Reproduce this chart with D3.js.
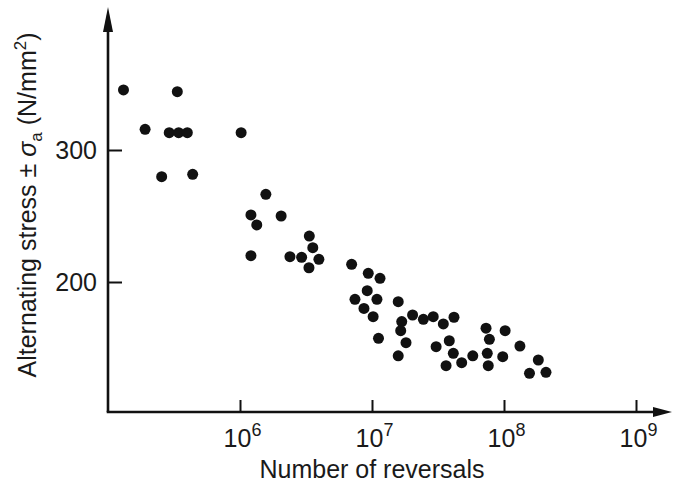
<!DOCTYPE html>
<html>
<head>
<meta charset="utf-8">
<script src="https://cdn.jsdelivr.net/npm/d3@7"></script>
<style>
  body { margin: 0; background: #fff; }
  text { font-family: "Liberation Sans", Arial, sans-serif; fill: #1a1a1a; }
</style>
</head>
<body>
<svg id="chart" width="673" height="486"></svg>
<script>
// number of reversals (cycles to failure)
var cycles = [1.31e5, 3.35e5, 1.91e5, 2.91e5, 3.43e5, 3.99e5, 1.02e6, 2.55e5, 4.38e5, 1.57e6,
              1.21e6, 2.05e6, 1.34e6, 3.35e6, 3.56e6, 1.21e6, 2.39e6, 2.93e6, 3.96e6, 3.33e6,
              7.01e6, 9.37e6, 1.15e7, 9.2e6, 7.43e6, 1.09e7, 8.69e6, 1.02e7, 1.12e7, 1.58e7,
              1.68e7, 1.65e7, 1.81e7, 1.58e7, 2.03e7, 2.45e7, 2.91e7, 3.47e7, 4.18e7, 3.06e7,
              3.85e7, 4.13e7, 3.64e7, 4.78e7, 5.8e7, 7.31e7, 7.75e7, 7.47e7, 7.6e7, 1.02e8,
              9.78e7, 1.32e8, 1.82e8, 1.56e8, 2.08e8];
// alternating stress, N/mm2
var stress = [345.5, 344.2, 315.7, 313.1, 313.1, 313.1, 313.1, 279.8, 281.6, 266.4,
              250.8, 250, 243.2, 234.8, 226, 219.9, 219.2, 218.7, 217.2, 210.8,
              213.4, 206.6, 202.8, 193.4, 186.9, 186.9, 180, 173.7, 157.3, 185.1,
              170, 163.1, 154, 144.1, 175, 171.7, 173.7, 168.2, 173.3, 151,
              155.5, 146, 136.6, 138.9, 144.1, 165, 156.6, 146, 136.6, 163.1,
              143.4, 151.5, 140.9, 130.8, 131.6];

var xTicks = [1e6, 1e7, 1e8, 1e9];
var yTicks = [200, 300];

var svg = d3.select("#chart");

var x = d3.scaleLog().domain([1e5, 1e9]).range([108, 636]);
var y = d3.scaleLinear().domain([200, 300]).range([282, 150]);

var x0 = x(1e5), yBase = 412;

// axes lines
svg.append("path")
    .attr("d", "M" + x0 + "," + yBase + " L" + x0 + ",28")
    .attr("stroke", "#111").attr("stroke-width", 2.6).attr("fill", "none");
svg.append("path")
    .attr("d", "M" + (x0 - 1.3) + "," + yBase + " L656," + yBase)
    .attr("stroke", "#111").attr("stroke-width", 2.6).attr("fill", "none");

// arrow heads
svg.append("path")
    .attr("d", "M" + x0 + ",7 L" + (x0 + 5) + ",32 L" + (x0 - 5) + ",32 Z")
    .attr("fill", "#111");
svg.append("path")
    .attr("d", "M672," + yBase + " L653," + (yBase - 5) + " L653," + (yBase + 5) + " Z")
    .attr("fill", "#111");

// x ticks
var xAxis = svg.append("g")
    .attr("transform", "translate(0," + yBase + ")")
    .call(d3.axisBottom(x).tickValues(xTicks).tickSizeInner(-12).tickSizeOuter(0).tickFormat(""));
xAxis.select(".domain").remove();
xAxis.selectAll(".tick line").attr("stroke", "#111").attr("stroke-width", 2);

// x tick labels with superscript exponents
xAxis.selectAll(".tick").append("text")
    .attr("y", 35)
    .attr("x", 2)
    .attr("text-anchor", "middle")
    .attr("font-size", 25)
    .attr("fill", "#1a1a1a")
    .each(function(d) {
      var t = d3.select(this);
      t.append("tspan").text("10");
      t.append("tspan").attr("dy", -11).attr("font-size", 18)
        .text(Math.round(Math.log10(d)));
    });

// y ticks
var yAxis = svg.append("g")
    .attr("transform", "translate(" + x0 + ",0)")
    .call(d3.axisLeft(y).tickValues(yTicks).tickSizeInner(-14).tickSizeOuter(0));
yAxis.select(".domain").remove();
yAxis.selectAll(".tick line").attr("stroke", "#111").attr("stroke-width", 2);
yAxis.selectAll(".tick text")
    .attr("x", -11)
    .attr("font-size", 25).attr("fill", "#1a1a1a")
    .style("font-family", "'Liberation Sans', Arial, sans-serif");

// points
svg.append("g").selectAll("circle")
    .data(cycles)
    .enter()
    .append("circle")
      .attr("cx", function(d) { return x(d); })
      .attr("cy", function(d, i) { return y(stress[i]); })
      .attr("r", 5.5)
      .attr("fill", "#111");

// axis titles
svg.append("text")
    .attr("x", 372).attr("y", 478)
    .attr("text-anchor", "middle")
    .attr("font-size", 25)
    .text("Number of reversals");

var yl = svg.append("text")
    .attr("transform", "translate(36,205) rotate(-90)")
    .attr("text-anchor", "middle")
    .attr("font-size", 25);
yl.append("tspan").text("Alternating stress \u00b1 ");
yl.append("tspan").attr("font-style", "italic").text("\u03c3");
yl.append("tspan").attr("dy", 6).attr("font-size", 17).text("a");
yl.append("tspan").attr("dy", -6).text("  (N/mm");
yl.append("tspan").attr("dy", -10).attr("font-size", 17).text("2");
yl.append("tspan").attr("dy", 10).text(")");
</script>
</body>
</html>
